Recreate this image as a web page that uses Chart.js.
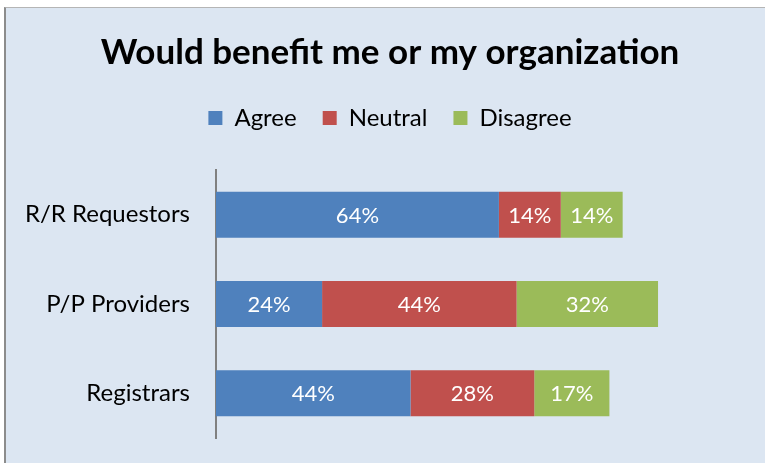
<!DOCTYPE html>
<html>
<head>
<meta charset="utf-8">
<script src="https://cdn.jsdelivr.net/npm/chart.js@4.4.1/dist/chart.umd.min.js"></script>
<style>
  html, body { margin: 0; padding: 0; background: #fff; }
  #frame { position: absolute; left: 4px; top: 7px; width: 770px; height: 470px; background: #dce6f2; border-left: 2px solid #8c8c8c; border-top: 1px solid #b5b5b5; }
  #chart { position: absolute; left: 0; top: 0; }
</style>
</head>
<body>
<div id="frame"></div>
<canvas id="chart" width="765" height="463"></canvas>
<script>
const categories = ["R/R Requestors", "P/P Providers", "Registrars"];
const agree = [64, 24, 44];
const neutral = [14, 44, 28];
const disagree = [14, 32, 17];

const FONT = "Lato";

// white % labels in the middle of each segment
const segmentLabels = {
  id: "segmentLabels",
  afterDatasetsDraw(chart) {
    const ctx = chart.ctx;
    ctx.save();
    ctx.fillStyle = "#ffffff";
    ctx.font = `22px ${FONT}`;
    ctx.textAlign = "center";
    ctx.textBaseline = "middle";
    chart.data.datasets.forEach((ds, i) => {
      chart.getDatasetMeta(i).data.forEach((bar, j) => {
        const cx = (bar.x + bar.base) / 2;
        ctx.fillText(ds.data[j] + "%", cx, bar.y + 1);
      });
    });
    ctx.restore();
  },
};

new Chart(document.getElementById("chart"), {
  type: "bar",
  data: {
    labels: categories,
    datasets: [
      { label: "Agree", data: agree, backgroundColor: "#4f81bd" },
      { label: "Neutral", data: neutral, backgroundColor: "#c0504d" },
      { label: "Disagree", data: disagree, backgroundColor: "#9bbb59" },
    ],
  },
  options: {
    responsive: false, animation: false,
    indexAxis: "y",
    categoryPercentage: 0.515, barPercentage: 1,
    layout: { padding: { left: 15, right: 0, top: 0, bottom: 25 } },
    plugins: {
      title: { display: true, text: "Would benefit me or my organization", color: "#000", font: { family: FONT, size: 35, weight: "bold", lineHeight: 1.2 }, padding: { top: 32, bottom: 6 } },
      // empty subtitle used as a gap between the legend and the bars
      subtitle: { display: true, text: " ", weight: 500, font: { size: 10, lineHeight: 1.2 }, padding: { top: 18, bottom: 0 } },
      legend: { labels: { color: "#000", font: { family: FONT, size: 24 }, boxWidth: 14, boxHeight: 14, padding: 26 } },
      tooltip: { enabled: false },
    },
    scales: {
      x: { stacked: true, min: 0, max: 124.2, display: false },
      y: {
        stacked: true,
        grid: { display: false, drawTicks: false },
        border: { color: "#808080", width: 2 },
        ticks: { color: "#000", font: { family: FONT, size: 24 }, padding: 26 },
        afterFit(scale) {
          scale.width = 201;
          // don't let the tick labels push the plot area up from the bottom
          scale.paddingTop = 0;
          scale.paddingBottom = 0;
        },
      },
    },
  },
  plugins: [segmentLabels],
});
</script>
</body>
</html>
